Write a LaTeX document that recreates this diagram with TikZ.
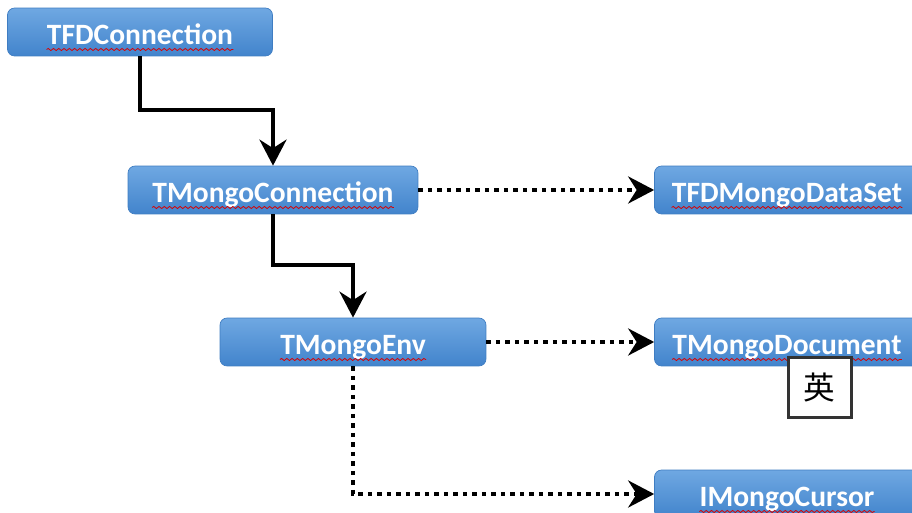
\documentclass[tikz,border=0pt]{standalone}
\usepackage{fontspec}
\setmainfont{Carlito}
\newfontfamily\cjk{Noto Sans CJK SC}
\usetikzlibrary{arrows.meta,decorations.pathmorphing}
\definecolor{blocktop}{HTML}{6FA8E2}
\definecolor{blockbot}{HTML}{4284CC}
\tikzset{
  block/.style={rounded corners=4pt, top color=blocktop, bottom color=blockbot, draw=blockbot!95!black,
    minimum width=5.3cm, minimum height=0.96cm, inner sep=0pt},
  blocktext/.style={text=white, inner sep=0pt, anchor=base, font=\fontsize{16.8}{20}\selectfont\bfseries},
  spell/.style={draw=red!85!black, line width=0.45pt, decorate,
    decoration={snake, amplitude=0.6pt, segment length=3pt}},
  arr/.style={-{Stealth[length=0.52cm,width=0.54cm,inset=0.17cm]}, line width=0.08cm},
  darr/.style={arr, dash pattern=on 0.09cm off 0.1cm},
  imebox/.style={draw=black!80, line width=0.06cm, fill=white, minimum width=1.26cm,
    minimum height=1.22cm, inner sep=0pt, font=\cjk\fontsize{18}{20}\selectfont}
}
\begin{document}
\begin{tikzpicture}[x=0.02cm, y=-0.02cm]
  \useasboundingbox (0,0) rectangle (912,513);
  \node[block] (fdconn) at (140,32) {};
  \node[block, minimum width=5.8cm] (mconn) at (273,190) {};
  \node[block, minimum width=5.32cm] (menv) at (353,342) {};
  \node[block] (dataset) at (787,190) {};
  \node[block] (mdoc) at (787,342) {};
  \node[block] (cursor) at (787,494) {};
  % class names, with the spell-check underline
  \foreach \n/\t in {fdconn/TFDConnection, mconn/TMongoConnection, menv/TMongoEnv,
      dataset/TFDMongoDataSet, mdoc/TMongoDocument, cursor/IMongoCursor} {
    \node[blocktext] (\n-t) at ([yshift=-0.25cm]\n.center) {\t};
    \draw[spell] ([yshift=-0.1cm]\n-t.base west) -- ([yshift=-0.1cm]\n-t.base east);
  }
  \node[imebox] (ime) at (819.5,387.5) {英};
  \draw[arr] (fdconn.south) -- ++(0,54) -| (mconn.north);
  \draw[arr] (mconn.south) -- ++(0,51) -| (menv.north);
  \draw[darr] (mconn.east) -- (dataset.west);
  \draw[darr] (menv.east) -- (mdoc.west);
  \draw[darr] (menv.south) |- (cursor.west);
\end{tikzpicture}
\end{document}
